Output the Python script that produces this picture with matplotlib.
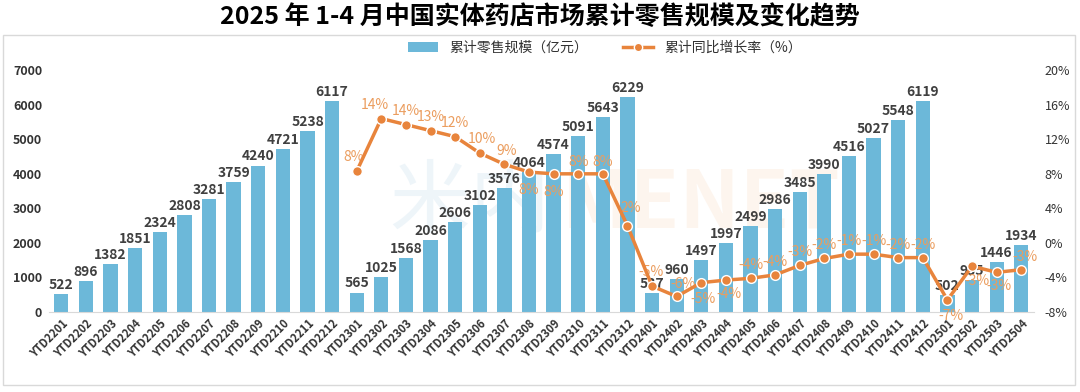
import matplotlib
matplotlib.use('Agg')
import matplotlib.pyplot as plt
from matplotlib.patches import Rectangle
from matplotlib.lines import Line2D
from matplotlib.patches import Patch

plt.rcParams['font.family'] = ['Noto Sans CJK SC', 'DejaVu Sans']

# 数据
months = ['YTD2201', 'YTD2202', 'YTD2203', 'YTD2204', 'YTD2205', 'YTD2206', 'YTD2207', 'YTD2208',
          'YTD2209', 'YTD2210', 'YTD2211', 'YTD2212',
          'YTD2301', 'YTD2302', 'YTD2303', 'YTD2304', 'YTD2305', 'YTD2306', 'YTD2307', 'YTD2308',
          'YTD2309', 'YTD2310', 'YTD2311', 'YTD2312',
          'YTD2401', 'YTD2402', 'YTD2403', 'YTD2404', 'YTD2405', 'YTD2406', 'YTD2407', 'YTD2408',
          'YTD2409', 'YTD2410', 'YTD2411', 'YTD2412',
          'YTD2501', 'YTD2502', 'YTD2503', 'YTD2504']
sales = [522, 896, 1382, 1851, 2324, 2808, 3281, 3759, 4240, 4721, 5238, 6117,
         565, 1025, 1568, 2086, 2606, 3102, 3576, 4064, 4574, 5091, 5643, 6229,
         537, 960, 1497, 1997, 2499, 2986, 3485, 3990, 4516, 5027, 5548, 6119,
         502, 935, 1446, 1934]
# 同比增长率从 YTD2301 开始
growth = [8.3, 14.4, 13.7, 13.0, 12.3, 10.4, 9.1, 8.2, 8.0, 8.0, 8.0, 2.0,
          -5.0, -6.2, -4.6, -4.3, -4.1, -3.7, -2.6, -1.8, -1.3, -1.3, -1.7, -1.7,
          -6.6, -2.7, -3.4, -3.1]
growth_start = 12

# 标签偏移 (像素)
lbl_off = [(-3, 14), (-6, 14), (0, 14), (0, 14), (0, 14), (2, 14), (2, 13), (0, -18),
           (0, -18), (0, 12), (0, 12), (3, 18),
           (-1, 14), (6, 12), (2, -16), (3, -14), (0, 13), (0, 13), (0, 13), (0, 13),
           (0, 13), (0, 13), (0, 13), (0, 13),
           (4, -16), (5, -15), (2, -14), (4, 13)]

bar_c = '#6cb8d9'
line_c = '#e8843c'
lbl_c = '#eb9d5e'

fig = plt.figure(figsize=(10.8, 3.92), dpi=100)
fig.patches.append(Rectangle((0.003, 0.018), 0.992, 0.893, transform=fig.transFigure,
                             fill=False, edgecolor='#d9d9d9', linewidth=1))
fig.text(0.5, 0.958, '2025 年 1-4 月中国实体药店市场累计零售规模及变化趋势',
         ha='center', va='center', fontsize=18, fontweight='bold', color='black')

ax = fig.add_axes([0.0454, 0.204, 0.9116, 0.617])
x = list(range(len(months)))
ax.bar(x, sales, width=0.58, color=bar_c, zorder=2)
for i, v in enumerate(sales):
    ax.text(i, v + 60, str(v), ha='center', va='bottom', fontsize=10,
            fontweight='bold', color='#404040', zorder=5)

ax.set_xlim(-0.5, len(months) - 0.5)
ax.set_ylim(0, 7000)
ax.set_yticks(range(0, 7001, 1000))
ax.set_xticks(x)
ax.set_xticklabels(months, rotation=45, ha='right', rotation_mode='anchor',
                   fontsize=8, fontweight='bold', color='#333333')
ax.tick_params(axis='both', length=0)
ax.tick_params(axis='y', labelsize=9, labelcolor='#333333', pad=5)
for t in ax.get_yticklabels():
    t.set_fontweight('bold')
for s in ['top', 'right', 'left']:
    ax.spines[s].set_visible(False)
ax.spines['bottom'].set_color('#d9d9d9')

# 水印
fig.text(0.36, 0.48, '米内', fontsize=58, color='#cfe3f0', alpha=0.35, ha='left', va='center', zorder=0)
fig.text(0.52, 0.48, 'MENET', fontsize=58, fontweight='bold', color='#fbe3cf', alpha=0.35,
         ha='left', va='center', zorder=0)

ax2 = ax.twinx()
gx = x[growth_start:]
ax2.plot(gx, growth, color=line_c, linewidth=2.5, marker='o', markersize=7,
         markerfacecolor=line_c, markeredgecolor='white', markeredgewidth=1, zorder=4)
for xi, g, off in zip(gx, growth, lbl_off):
    ax2.annotate(f'{round(g)}%', (xi, g), xytext=off, textcoords='offset pixels',
                 ha='center', va='center', fontsize=10, color=lbl_c, annotation_clip=False)
ax2.set_ylim(-8, 20)
ax2.set_yticks(range(-8, 21, 4))
ax2.set_yticklabels([f'{v}%' for v in range(-8, 21, 4)])
ax2.tick_params(axis='y', length=0, labelsize=9, labelcolor='#333333', pad=8)
for s in ['top', 'right', 'left', 'bottom']:
    ax2.spines[s].set_visible(False)
ax.set_zorder(1)
ax2.set_zorder(2)
ax.patch.set_visible(False)

handles = [Patch(facecolor=bar_c, edgecolor='none'),
           Line2D([0], [0], color=line_c, linewidth=2.5, marker='o', markersize=6,
                  markeredgecolor='white')]
fig.legend(handles, ['累计零售规模（亿元）', '累计同比增长率（%）'], loc='center',
           bbox_to_anchor=(0.56, 0.878), ncol=2, frameon=False, fontsize=10,
           handlelength=2.2, columnspacing=2.5, labelcolor='#333333')

plt.savefig('out.png', dpi=100)
